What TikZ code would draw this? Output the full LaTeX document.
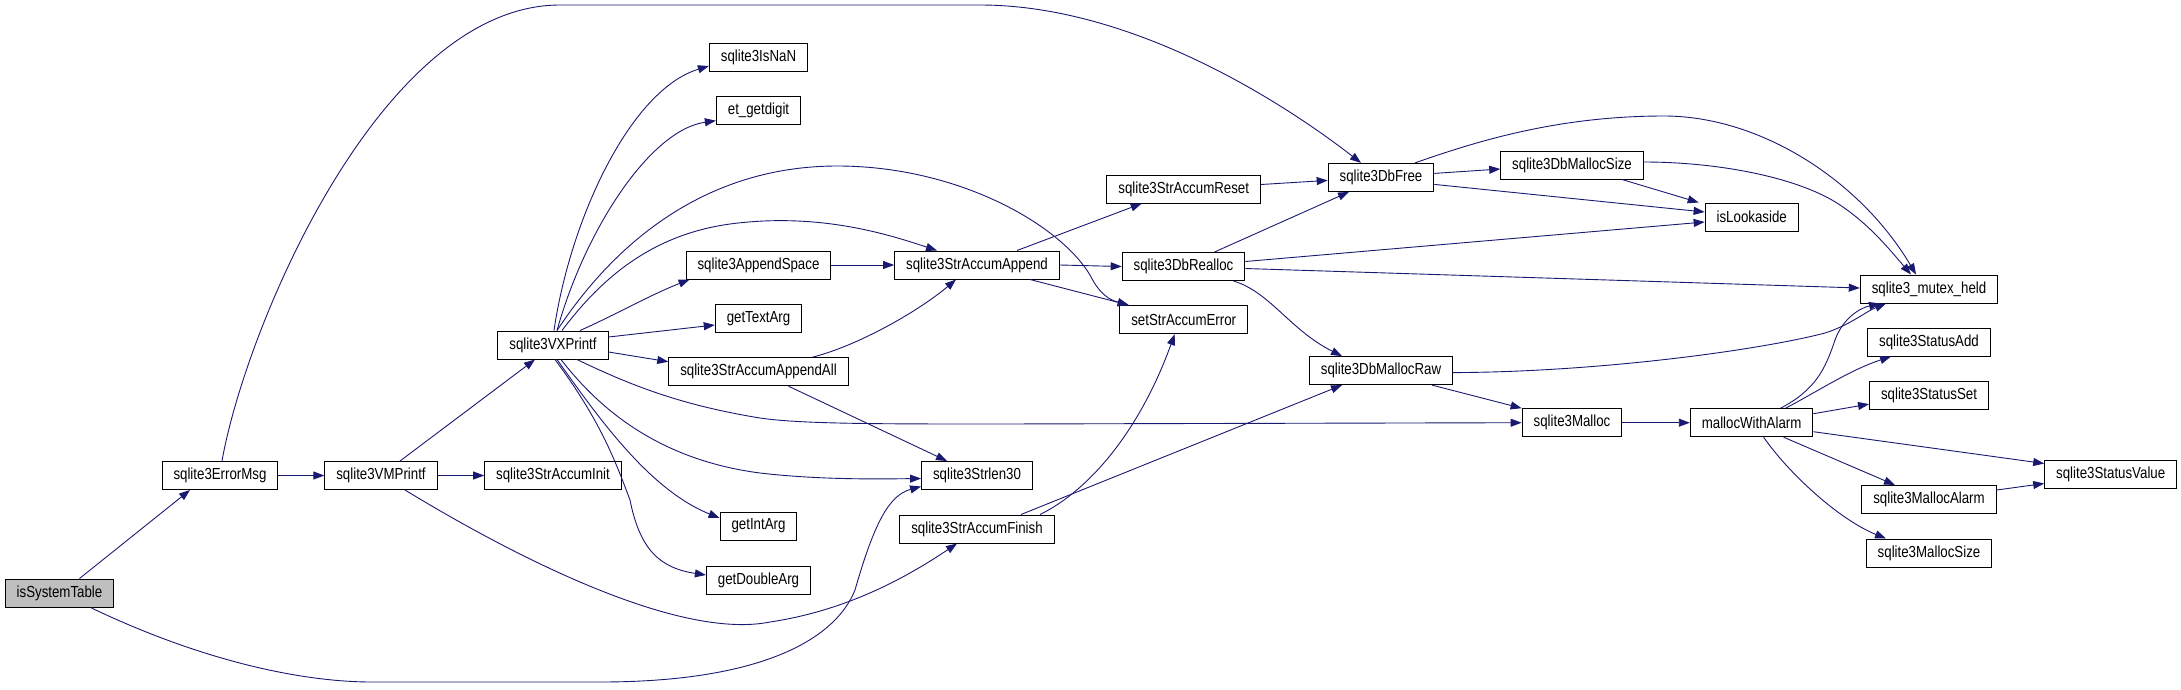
\documentclass[tikz,border=0pt]{standalone}
\usepackage{fontspec}
\setmainfont{Liberation Sans}[FakeStretch=0.83]
\usetikzlibrary{arrows.meta}
\definecolor{edgeblue}{HTML}{191970}
\definecolor{rootgray}{HTML}{BFBFBF}

\begin{document}
\begin{tikzpicture}[x=1pt,y=-1pt,
    fn/.style={draw=black,line width=1pt,fill=white,inner xsep=11.5pt,inner ysep=0pt,
      minimum height=28pt,font=\fontsize{16}{18}\selectfont},
    root/.style={fn,fill=rootgray},
    call/.style={->,draw=edgeblue,line width=0.9pt},
    >={Triangle[length=11pt,width=8pt]}]

  \useasboundingbox (0,0) rectangle (2181,689);

  % --- functions, column by column ---
  \node[root] (sys) at (59.5,593) {isSystemTable};
  \node[fn] (errmsg) at (220,475.5) {sqlite3ErrorMsg};
  \node[fn] (vmprintf) at (381,475.5) {sqlite3VMPrintf};
  \node[fn] (accinit) at (553,475.5) {sqlite3StrAccumInit};
  \node[fn] (vx) at (553,345) {sqlite3VXPrintf};

  \node[fn] (isnan) at (758.5,57) {sqlite3IsNaN};
  \node[fn] (getdigit) at (758.5,110.7) {et\_getdigit};
  \node[fn] (appendspace) at (758.5,265) {sqlite3AppendSpace};
  \node[fn] (gettextarg) at (758.5,318.5) {getTextArg};
  \node[fn] (appendall) at (758.5,371.7) {sqlite3StrAccumAppendAll};
  \node[fn] (getintarg) at (758.5,526) {getIntArg};
  \node[fn] (getdoublearg) at (758.5,580) {getDoubleArg};

  \node[fn] (accappend) at (977,265) {sqlite3StrAccumAppend};
  \node[fn] (strlen) at (977,475.5) {sqlite3Strlen30};
  \node[fn] (accfinish) at (977,529) {sqlite3StrAccumFinish};

  \node[fn] (accreset) at (1183.7,189) {sqlite3StrAccumReset};
  \node[fn] (dbrealloc) at (1183.5,266.5) {sqlite3DbRealloc};
  \node[fn] (seterror) at (1183.7,319.6) {setStrAccumError};

  \node[fn] (dbfree) at (1381,177.4) {sqlite3DbFree};
  \node[fn] (dbmallocraw) at (1381,370.6) {sqlite3DbMallocRaw};

  \node[fn] (dbmallocsize) at (1572,165) {sqlite3DbMallocSize};
  \node[fn] (malloc) at (1572,422.7) {sqlite3Malloc};

  \node[fn] (islookaside) at (1751.7,217) {isLookaside};
  \node[fn] (alarmfn) at (1751.6,422.7) {mallocWithAlarm};

  \node[fn] (mutexheld) at (1929,289) {sqlite3\_mutex\_held};
  \node[fn] (statusadd) at (1929,342) {sqlite3StatusAdd};
  \node[fn] (statusset) at (1929,395.6) {sqlite3StatusSet};
  \node[fn] (mallocalarm) at (1929,499.5) {sqlite3MallocAlarm};
  \node[fn] (mallocsize) at (1929,553) {sqlite3MallocSize};
  \node[fn] (statusvalue) at (2110.7,474.5) {sqlite3StatusValue};

  % --- calls from isSystemTable and sqlite3ErrorMsg ---
  \draw[call] ([xshift=20pt]sys.north) -- ([xshift=-30pt]errmsg.south);
  \draw[call] ([xshift=31pt]sys.south) .. controls (200,660) and (300,682) .. (372,682)
    -- (600,682) .. controls (760,682) and (835,640) .. (855,590)
    .. controls (875,520) and (890,495) .. ([yshift=-11pt]strlen.west);
  \draw[call] (errmsg.east) -- (vmprintf.west);
  \draw[call] ([xshift=2pt]errmsg.north) .. controls (245,330) and (380,5) .. (560,5)
    -- (980,5) .. controls (1130,5) and (1280,100) .. ([xshift=-20pt]dbfree.north);

  % --- calls from sqlite3VMPrintf ---
  \draw[call] ([xshift=19pt]vmprintf.north) -- ([xshift=-18pt]vx.south);
  \draw[call] (vmprintf.east) -- (accinit.west);
  \draw[call] ([xshift=24pt]vmprintf.south) .. controls (520,560) and (680,640) .. (770,622)
    .. controls (850,610) and (910,575) .. ([xshift=-20pt]accfinish.south);

  % --- calls from sqlite3VXPrintf ---
  \draw[call] ([xshift=1pt]vx.north) .. controls (570,220) and (630,90) .. ([yshift=-9pt]isnan.west);
  \draw[call] ([xshift=4pt]vx.north) .. controls (585,230) and (650,130) .. ([yshift=-10pt]getdigit.west);
  \draw[call] ([xshift=9pt]vx.north) .. controls (600,280) and (650,235) .. (730,224)
    .. controls (820,212) and (890,235) .. ([xshift=-40pt]accappend.north);
  \draw[call] ([xshift=4pt]vx.north) .. controls (610,250) and (700,165) .. (840,166)
    .. controls (960,167) and (1060,225) .. (1090,275)
    .. controls (1100,295) and (1110,300) .. ([xshift=-55pt]seterror.north);
  \draw[call] ([xshift=27pt]vx.north) .. controls (615,315) and (650,295) .. ([xshift=4pt]appendspace.south west);
  \draw[call] ([yshift=8pt]vx.east) -- ([yshift=-6.5pt]gettextarg.west);
  \draw[call] ([yshift=-7pt]vx.east) -- ([yshift=10pt]appendall.west);
  \draw[call] ([xshift=24pt]vx.south) .. controls (630,385) and (680,405) .. (760,418)
    .. controls (800,424) and (880,424) .. (1000,424) -- (malloc.west);
  \draw[call] ([xshift=8pt]vx.south) .. controls (600,410) and (660,460) .. (760,473)
    .. controls (820,480) and (880,479) .. ([yshift=-3pt]strlen.west);
  \draw[call] ([xshift=4pt]vx.south) .. controls (600,420) and (650,490) .. ([yshift=8pt]getintarg.west);
  \draw[call] ([xshift=2pt]vx.south) .. controls (600,420) and (615,460) .. (630,500)
    .. controls (640,550) and (660,568) .. ([yshift=5pt]getdoublearg.west);

  % --- string accumulator calls ---
  \draw[call] (appendspace.east) -- (accappend.west);
  \draw[call] ([xshift=54pt]appendall.north) .. controls (860,345) and (920,310) .. ([xshift=-21pt]accappend.south);
  \draw[call] ([xshift=30pt]appendall.south) -- ([xshift=-30pt]strlen.north);
  \draw[call] ([xshift=40pt]accappend.north) -- ([xshift=-42pt]accreset.south);
  \draw[call] (accappend.east) -- (dbrealloc.west);
  \draw[call] ([xshift=53pt]accappend.south) -- ([xshift=-55pt]seterror.north);
  \draw[call] ([xshift=63pt]accfinish.north) .. controls (1090,490) and (1140,430) .. ([xshift=-9pt]seterror.south);
  \draw[call] ([xshift=44pt]accfinish.north) -- ([xshift=-39pt]dbmallocraw.south);
  \draw[call] ([yshift=4.5pt]accreset.east) -- ([yshift=-3pt]dbfree.west);

  % --- memory calls ---
  \draw[call] ([xshift=31pt]dbrealloc.north) -- ([xshift=-32pt]dbfree.south);
  \draw[call] ([yshift=5pt]dbrealloc.east) -- ([yshift=-5pt]islookaside.west);
  \draw[call] ([yshift=-2pt]dbrealloc.east) -- ([yshift=1pt]mutexheld.west);
  \draw[call] ([xshift=50pt]dbrealloc.south) .. controls (1270,292) and (1290,330) .. ([xshift=-39pt]dbmallocraw.north);
  \draw[call] ([yshift=-2pt]dbmallocraw.east) .. controls (1600,372) and (1760,350) .. (1825,333)
    .. controls (1850,325) and (1865,312) .. ([xshift=-43pt]mutexheld.south);
  \draw[call] ([xshift=51pt]dbmallocraw.south) -- (malloc.north west);
  \draw[call] ([yshift=4pt]dbfree.east) -- ([yshift=-4pt]dbmallocsize.west);
  \draw[call] ([yshift=-7pt]dbfree.east) -- ([yshift=5pt]islookaside.west);
  \draw[call] ([xshift=34pt]dbfree.north) .. controls (1480,140) and (1560,116) .. (1664,116)
    .. controls (1760,116) and (1860,180) .. ([xshift=-13pt]mutexheld.north);
  \draw[call] ([xshift=50pt]dbmallocsize.south) -- ([xshift=-53pt]islookaside.north);
  \draw[call] ([yshift=3pt]dbmallocsize.east) .. controls (1720,162) and (1800,178) .. (1840,205)
    .. controls (1870,225) and (1890,250) .. ([xshift=-18pt]mutexheld.north);
  \draw[call] (malloc.east) -- (alarmfn.west);

  % --- calls from mallocWithAlarm ---
  \draw[call] ([xshift=29pt]alarmfn.north) .. controls (1815,390) and (1825,370) .. (1835,340)
    .. controls (1843,318) and (1860,308) .. ([xshift=-49pt]mutexheld.south);
  \draw[call] ([xshift=34pt]alarmfn.north) .. controls (1820,390) and (1850,370) .. ([xshift=-38pt]statusadd.south);
  \draw[call] ([yshift=9pt]alarmfn.east) -- ([yshift=-8.5pt]statusset.west);
  \draw[call] ([yshift=-9pt]alarmfn.east) -- ([yshift=11pt]statusvalue.west);
  \draw[call] ([xshift=32pt]alarmfn.south) -- ([xshift=-34pt]mallocalarm.north);
  \draw[call] ([xshift=12pt]alarmfn.south) .. controls (1790,475) and (1840,520) .. ([xshift=-43pt]mallocsize.north);
  \draw[call] ([yshift=9.5pt]mallocalarm.east) -- ([yshift=-9pt]statusvalue.west);

\end{tikzpicture}
\end{document}
